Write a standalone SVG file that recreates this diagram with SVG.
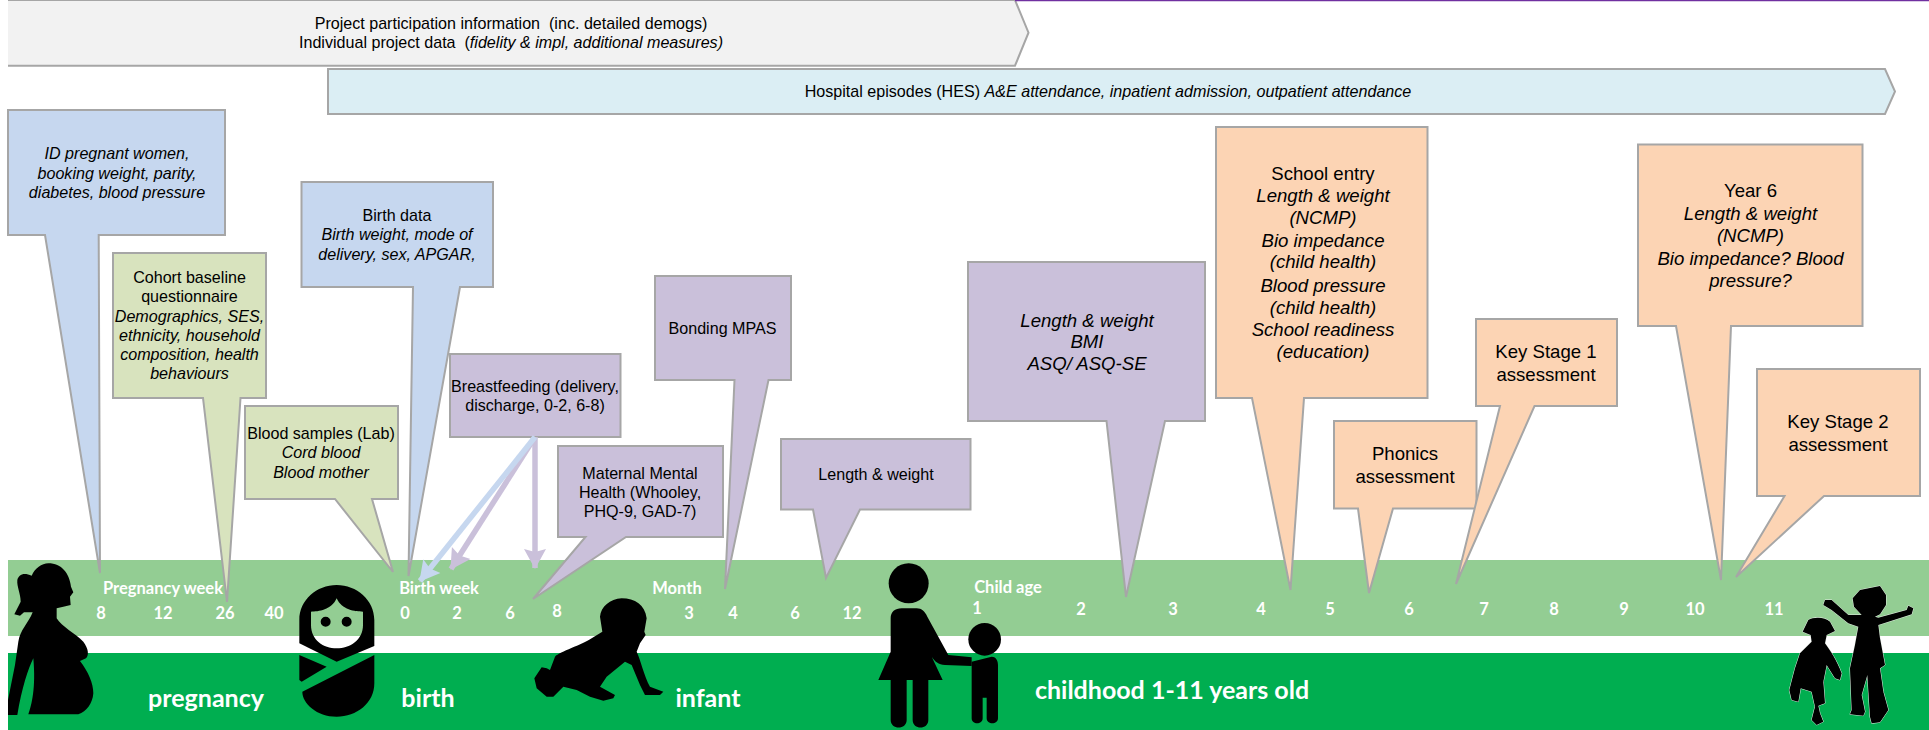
<svg xmlns="http://www.w3.org/2000/svg" width="1929" height="730" viewBox="0 0 1929 730">
<style>
text{font-family:"Liberation Sans",Arial,sans-serif;fill:#000;text-anchor:middle;white-space:pre}
.t{font-size:16.1px}
.b{font-size:18.6px}
.i{font-style:italic}
.cb{stroke:#a6a6a6;stroke-width:2;stroke-linejoin:miter}
.blue{fill:#c6d7ef}.grn{fill:#d8e3be}.pur{fill:#cac0da}.org{fill:#fcd4b4}
.w{font-family:Lato,"Noto Sans",sans-serif;font-weight:700;fill:#fff;text-anchor:middle}
.n{font-size:16.5px}
.big{font-size:25px}
.sil{fill:#000;stroke-linejoin:round}
</style>
<defs>
<marker id="hp" markerUnits="userSpaceOnUse" markerWidth="24" markerHeight="24" refX="19" refY="12" orient="auto"><path d="M0 1L3 12L0 23L20 12Z" fill="#cac0da"/></marker>
<marker id="hb" markerUnits="userSpaceOnUse" markerWidth="24" markerHeight="24" refX="19" refY="12" orient="auto"><path d="M0 1L3 12L0 23L20 12Z" fill="#c6d7ef"/></marker>
</defs>
<rect width="1929" height="730" fill="#fff"/>
<g id="timeline-bands">
<rect x="8" y="560" width="1921" height="76" fill="#93cd93"/>
<rect x="8" y="653" width="1921" height="77" fill="#00ae50"/>
</g>
<g id="timeline-labels" class="lbl">
<text class="w n" x="163" y="594">Pregnancy week</text>
<text class="w n" x="439" y="594">Birth week</text>
<text class="w n" x="677" y="594">Month</text>
<text class="w n" x="1008" y="593">Child age</text>
<g class="nums">
<text class="w n" x="101" y="619">8</text><text class="w n" x="163" y="619">12</text><text class="w n" x="225" y="619">26</text><text class="w n" x="274" y="619">40</text>
<text class="w n" x="405" y="619">0</text><text class="w n" x="457" y="619">2</text><text class="w n" x="510" y="619">6</text><text class="w n" x="557" y="617">8</text>
<text class="w n" x="689" y="619">3</text><text class="w n" x="733" y="619">4</text><text class="w n" x="795" y="619">6</text><text class="w n" x="852" y="619">12</text>
<text class="w n" x="977" y="614">1</text><text class="w n" x="1081" y="615">2</text><text class="w n" x="1173" y="615">3</text><text class="w n" x="1261" y="615">4</text><text class="w n" x="1330" y="615">5</text><text class="w n" x="1409" y="615">6</text><text class="w n" x="1484" y="615">7</text><text class="w n" x="1554" y="615">8</text><text class="w n" x="1624" y="615">9</text><text class="w n" x="1695" y="615">10</text><text class="w n" x="1774" y="615">11</text>
</g>
<text class="w big" x="206" y="707">pregnancy</text>
<text class="w big" x="428" y="707">birth</text>
<text class="w big" x="708" y="707">infant</text>
<text class="w big" x="1172" y="699">childhood 1-11 years old</text>
</g>
<g id="silhouettes" class="sil">
<path id="pregnant" transform="translate(0 555) scale(.3333)" d="M24 480L24 435L45 330L55 260C60 225 85 205 98 172L72 172L60 182L43 178L62 140C62 115 50 95 52 75C55 60 70 50 95 62C105 40 125 25 145 25C185 25 208 55 213 95L220 112L210 125L212 150L190 155L170 160L170 190C185 215 225 235 250 260C265 280 268 300 258 310L240 318C265 350 280 385 280 415C278 445 260 470 235 478L85 478C95 450 108 400 100 310C85 340 65 400 52 480Z"/>
<path id="swaddle" transform="translate(285 560) scale(.3333)" fill-rule="evenodd" d="M43 180C43 120 95 75 155 75C215 75 268 120 268 180L268 258L155 305L43 250ZM78 155L78 195C78 240 115 265 155 265C195 265 234 240 234 195L234 155C210 155 170 150 155 115C140 150 100 155 78 155ZM122 170A15 15 0 1 0 122 200A15 15 0 1 0 122 170ZM185 170A15 15 0 1 0 185 200A15 15 0 1 0 185 170ZM43 285L125 320L50 365L43 360ZM52 395L268 285L268 370C268 430 215 470 155 470C95 470 52 430 52 395Z"/>
<path id="crawler" transform="translate(525 590) scale(.3333)" d="M225 80C228 50 255 27 290 25C330 25 360 45 365 85L358 125L362 135L345 160L335 185C345 205 358 260 375 290L415 305L405 315L360 315L345 285L320 225L300 215L245 260L225 290L270 315L265 325L235 332L195 320L155 300L115 290L85 320L65 320L35 295L28 265L50 232L65 235L75 240L90 200C105 185 170 165 200 145L232 125Z"/>
<g id="mother-child" transform="translate(870 555) scale(.3333)">
<ellipse cx="116" cy="85" rx="60" ry="60"/>
<path d="M62 190C62 170 75 160 95 160L140 160C155 160 165 170 172 185L235 300L305 307L305 333L225 330C205 328 195 320 185 305L178 290L218 375L175 375L175 495C175 525 128 525 128 495L128 375L110 375L110 495C110 525 62 525 62 495L62 375L25 375L62 290Z"/>
<ellipse cx="344" cy="253" rx="49" ry="49"/>
<path d="M305 320L365 305C380 305 384 320 384 330L384 490C384 510 350 510 350 490L350 428L338 428L338 490C338 510 305 510 305 490Z"/>
</g>
<g id="children" transform="translate(1780 585) scale(.3333)" stroke="#e3ebe3" stroke-width="3" paint-order="stroke">
<path d="M68 140L85 105C100 95 135 95 150 110L165 138L140 150L135 175C150 195 170 225 185 265L180 285L165 280L140 240L130 290L135 355L115 362L120 385L130 410L110 420L95 405L105 365L95 320L62 310L55 350L35 345L28 315L45 250L60 205L95 170L92 150Z"/>
<path d="M218 40L240 15L300 3L318 30L318 60L300 88L285 95L295 98L380 75L385 62L400 70L395 88L295 120L300 160L315 240L300 250L310 320L325 375L300 412L275 415L270 395L262 270L245 330L255 380L250 392L210 388L215 375L210 250L225 180L235 125L205 115L155 75L130 60L135 45L155 45L205 90L245 90L222 65Z"/>
</g>
</g>
<g id="project-data">
<path class="cb" fill="#f2f2f2" d="M8 0H1015L1028.500 32.700L1015 65.700H8"/>
<text class="t" x="511" y="29">Project participation information  (inc. detailed demogs)</text>
<text class="t" x="511" y="48">Individual project data  (<tspan class="i">fidelity &amp; impl, additional measures)</tspan></text>
</g>
<path id="top-rule" d="M1015 .5H1929" stroke="#7030a0" stroke-width="1.500" fill="none"/>
<g id="hospital-episodes">
<path class="cb" fill="#dbeef4" d="M328 69H1885L1895 91.500L1885 114H328Z"/>
<text class="t" x="1108" y="97">Hospital episodes (HES) <tspan class="i">A&amp;E attendance, inpatient admission, outpatient attendance</tspan></text>
</g>
<g id="booking">
<path class="cb blue" d="M8 110H225V235H98.700L100 573L45 235H8Z"/>
<text class="t i" x="117" y="159">ID pregnant women,</text><text class="t i" x="117" y="179">booking weight, parity,</text><text class="t i" x="117" y="198">diabetes, blood pressure</text>
</g>
<g id="cohort">
<path class="cb grn" d="M113 253H266V398H240.500L227 602L203 398H113Z"/>
<text class="t" x="189.500" y="283">Cohort baseline</text><text class="t" x="189.500" y="302">questionnaire</text><text class="t i" x="189.500" y="322">Demographics, SES,</text><text class="t i" x="189.500" y="341">ethnicity, household</text><text class="t i" x="189.500" y="360">composition, health</text><text class="t i" x="189.500" y="379">behaviours</text>
</g>
<g id="blood">
<path class="cb grn" d="M245 406H398V499H372L393 572L335 499H245Z"/>
<text class="t" x="321" y="439">Blood samples (Lab)</text><text class="t i" x="321" y="458">Cord blood</text><text class="t i" x="321" y="478">Blood mother</text>
</g>
<g id="birth-data">
<path class="cb blue" d="M301.500 182H493V287H460L408.500 576L413 287H301.500Z"/>
<text class="t" x="397" y="221">Birth data</text><text class="t i" x="397" y="240">Birth weight, mode of</text><text class="t i" x="397" y="260">delivery, sex, APGAR,</text>
</g>
<g id="breastfeeding">
<rect class="cb pur" x="450" y="354" width="170.500" height="83"/>
<text class="t" x="535" y="392">Breastfeeding (delivery,</text><text class="t" x="535" y="411">discharge, 0-2, 6-8)</text>
</g>
<g id="connectors" fill="none" stroke-width="5.500">
<path d="M535 437V568" stroke="#cac0da" marker-end="url(#hp)"/>
<path d="M535 437L451 569" stroke="#cac0da" marker-end="url(#hp)"/>
<path d="M535 437L420 581" stroke="#c6d7ef" marker-end="url(#hb)"/>
</g>
<g id="maternal">
<path class="cb pur" d="M558 446H723V537H626L533 599L585.500 537H558Z"/>
<text class="t" x="640" y="479">Maternal Mental</text><text class="t" x="640" y="498">Health (Whooley,</text><text class="t" x="640" y="517">PHQ-9, GAD-7)</text>
</g>
<g id="bonding">
<path class="cb pur" d="M655 276H791V380H768.500L725 589L734.500 380H655Z"/>
<text class="t" x="722.500" y="334">Bonding MPAS</text>
</g>
<g id="length-weight">
<path class="cb pur" d="M781 439H970.500V509.500H860L826 578L813 509.500H781Z"/>
<text class="t" x="876" y="480">Length &amp; weight</text>
</g>
<g id="bmi">
<path class="cb pur" d="M968 262H1205V421H1165L1126 597L1106.500 421H968Z"/>
<text class="b i" x="1087" y="327">Length &amp; weight</text><text class="b i" x="1087" y="348">BMI</text><text class="b i" x="1087" y="370">ASQ/ ASQ-SE</text>
</g>
<g id="school-entry">
<path class="cb org" d="M1216 127H1427.500V398H1304L1290.500 590L1252 398H1216Z"/>
<text class="b" x="1323" y="180">School entry</text><text class="b i" x="1323" y="202">Length &amp; weight</text><text class="b i" x="1323" y="224">(NCMP)</text><text class="b i" x="1323" y="247">Bio impedance</text><text class="b i" x="1323" y="268">(child health)</text><text class="b i" x="1323" y="292">Blood pressure</text><text class="b i" x="1323" y="314">(child health)</text><text class="b i" x="1323" y="336">School readiness</text><text class="b i" x="1323" y="358">(education)</text>
</g>
<g id="phonics">
<path class="cb org" d="M1334 421H1476.500V508.500H1393L1369 593L1358 508.500H1334Z"/>
<text class="b" x="1405" y="460">Phonics</text><text class="b" x="1405" y="483">assessment</text>
</g>
<g id="key-stage-1">
<path class="cb org" d="M1476 319H1617V406H1534.500L1456 584L1500 406H1476Z"/>
<text class="b" x="1546" y="358">Key Stage 1</text><text class="b" x="1546" y="381">assessment</text>
</g>
<g id="year-6">
<path class="cb org" d="M1638 144.500H1862.500V326H1731L1721 580L1676 326H1638Z"/>
<text class="b" x="1750.500" y="197">Year 6</text><text class="b i" x="1750.500" y="220">Length &amp; weight</text><text class="b i" x="1750.500" y="242">(NCMP)</text><text class="b i" x="1750.500" y="265">Bio impedance? Blood</text><text class="b i" x="1750.500" y="287">pressure?</text>
</g>
<g id="key-stage-2">
<path class="cb org" d="M1757 369H1920V496H1824L1736 577L1784.500 496H1757Z"/>
<text class="b" x="1838" y="428">Key Stage 2</text><text class="b" x="1838" y="451">assessment</text>
</g>
</svg>
